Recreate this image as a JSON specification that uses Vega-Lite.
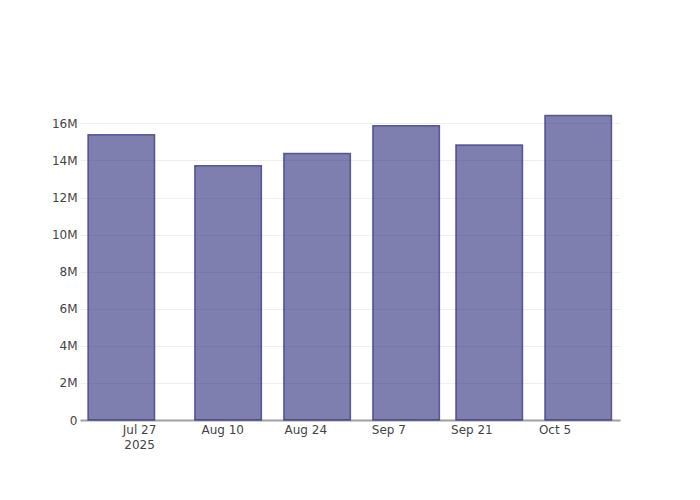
{
  "$schema": "https://vega.github.io/schema/vega-lite/v6.json",
  "width": 540,
  "height": 320,
  "autosize": {"type": "none"},
  "padding": {"left": 80, "top": 100, "right": 80, "bottom": 80},
  "background": "white",
  "config": {"view": {"stroke": null}, "font": "DejaVu Sans"},
  "data": {
    "values": [
      {"date": "2025-07-24", "value": 15390000},
      {"date": "2025-08-11", "value": 13710000},
      {"date": "2025-08-26", "value": 14380000},
      {"date": "2025-09-10", "value": 15870000},
      {"date": "2025-09-24", "value": 14830000},
      {"date": "2025-10-09", "value": 16430000}
    ]
  },
  "mark": {"type": "bar", "size": 66.5, "fill": "#28287a", "fillOpacity": 0.6, "stroke": "#3c3c86", "strokeOpacity": 0.8, "strokeWidth": 1.5},
  "encoding": {
    "x": {
      "field": "date",
      "type": "temporal",
      "scale": {
        "type": "utc",
        "padding": 0,
        "domain": [
          {"year": 2025, "month": 7, "date": 17, "hours": 1, "utc": true},
          {"year": 2025, "month": 10, "date": 16, "hours": 1, "utc": true}
        ]
      },
      "axis": {
        "title": null,
        "grid": false,
        "ticks": false,
        "domainColor": "#a0a0a0",
        "domainWidth": 2,
        "labelColor": "#444",
        "labelFontSize": 12,
        "labelPadding": 4,
        "labelLineHeight": 15,
        "labelFlush": false,
        "labelOverlap": false,
        "values": [
          {"year": 2025, "month": 7, "date": 27, "utc": true},
          {"year": 2025, "month": 8, "date": 10, "utc": true},
          {"year": 2025, "month": 8, "date": 24, "utc": true},
          {"year": 2025, "month": 9, "date": 7, "utc": true},
          {"year": 2025, "month": 9, "date": 21, "utc": true},
          {"year": 2025, "month": 10, "date": 5, "utc": true}
        ],
        "labelExpr": "datum.index == 0 ? [utcFormat(datum.value, '%b %-d'), '2025'] : utcFormat(datum.value, '%b %-d')"
      }
    },
    "y": {
      "field": "value",
      "type": "quantitative",
      "scale": {"domain": [0, 17260000], "nice": false, "zero": true},
      "axis": {
        "title": null,
        "domain": false,
        "ticks": false,
        "gridColor": "#eeeeee",
        "gridWidth": 1,
        "labelColor": "#444",
        "labelFontSize": 12,
        "labelPadding": 3,
        "values": [0, 2000000, 4000000, 6000000, 8000000, 10000000, 12000000, 14000000, 16000000],
        "labelExpr": "datum.value == 0 ? '0' : (datum.value / 1000000) + 'M'"
      }
    }
  }
}
